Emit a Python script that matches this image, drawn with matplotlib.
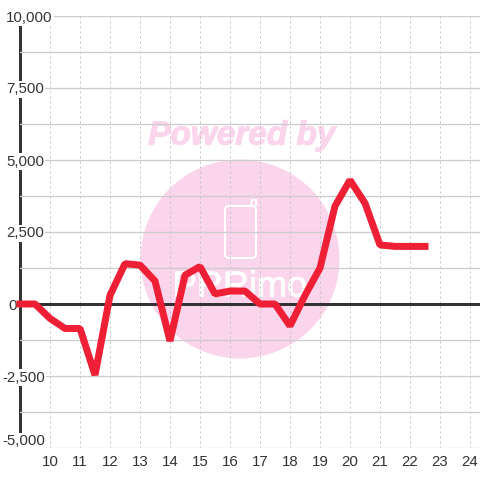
import matplotlib
matplotlib.use("Agg")
import matplotlib.pyplot as plt
import matplotlib.patheffects as pe
from matplotlib.patches import Circle, FancyBboxPatch, Polygon

hours = [9, 9.5, 10, 10.5, 11, 11.5, 12, 12.5, 13, 13.5, 14, 14.5, 15, 15.5, 16, 16.5,
         17, 17.5, 18, 18.5, 19, 19.5, 20, 20.5, 21, 21.5, 22, 22.5]
values = [0, 0, -500, -850, -850, -2465, 300, 1400, 1350, 800, -1285, 1000, 1300, 350,
          450, 450, 0, 0, -760, 300, 1250, 3400, 4300, 3500, 2050, 2000, 2000, 2000]
x_ticks = list(range(10, 25))
y_major = [-5000, -2500, 0, 2500, 5000, 7500, 10000]
y_minor = [-3750, -1250, 1250, 3750, 6250, 8750]
y_labels = ["-5,000", "-2,500", "0", "2,500", "5,000", "7,500", "10,000"]

plt.rcParams["font.family"] = ["Liberation Sans", "DejaVu Sans"]
PX = 72 / 100
W = 480
fig = plt.figure(figsize=(4.8, 4.8), dpi=100, facecolor="white")
ax = fig.add_axes([20 / W, 32 / W, 460 / W, 432 / W])
ax.set_xlim(9, 9 + 460 / 30)
ax.set_ylim(-5000, 10000)
ax.patch.set_alpha(0)

for s in ["top", "right", "bottom"]:
    ax.spines[s].set_visible(False)
ax.spines["left"].set_linewidth(3 * PX)
ax.spines["left"].set_color("#333333")
ax.spines["left"].set_zorder(1.5)
ax.spines["left"].set_bounds(-4550, 10000)

# watermark (display pixel coordinates, origin bottom left)
pink = "#fbd5ec"
fig.add_artist(Circle((240, W - 259), 99.5, transform=None, fc=pink, ec="none", zorder=-5))
fig.text(242 / W, 1 - 136 / W, "Powered by", color=pink, fontsize=24, fontweight="bold",
         fontstyle="italic", ha="center", va="center", zorder=-4,
         path_effects=[pe.withStroke(linewidth=0.8, foreground=pink)])
fig.text(240 / W, 1 - 287 / W, "PRRimo", color="white", fontsize=26,
         ha="center", va="center", zorder=-4,
         path_effects=[pe.withStroke(linewidth=0.6, foreground="white")])
fig.add_artist(FancyBboxPatch((225, W - 258), 31, 52, boxstyle="round,pad=0,rounding_size=4",
                              transform=None, fc="none", ec="white", lw=2 * PX, zorder=-4))
fig.add_artist(Polygon([(251, W - 206), (252, W - 200), (256, W - 200), (256, W - 206)],
                       closed=False, transform=None, fc="none", ec="white", lw=2 * PX, zorder=-4))

ax.set_xticks(x_ticks)
ax.set_yticks(y_major)
ax.set_yticks(y_minor, minor=True)
ax.set_yticklabels(y_labels)
ax.grid(True, axis="y", which="both", color="#cccccc", lw=1.3 * PX, zorder=1)
ax.grid(True, axis="x", color="#c4c4c4", lw=1 * PX, linestyle=(0, (2, 3)))
ax.set_axisbelow(True)
ax.tick_params(axis="both", which="both", length=0, labelsize=15 * PX, labelcolor="#333333")
ax.tick_params(axis="x", pad=7 * PX)
ax.tick_params(axis="y", pad=14 * PX)
ax.yaxis.set_zorder(2)
for lab, v in zip(ax.get_yticklabels(), y_major):
    lab.set_ha("left")
    lab.set_bbox(dict(fc="white", ec="none", pad=1.0))
    lab.set_zorder(3)
    if v < 0:
        lab.set_x(-4 / 460)
    elif v == 0:
        lab.set_x(2 / 460)
    if v == -5000:
        lab.set_va("bottom")

ax.axhline(0, color="#333333", lw=3 * PX, zorder=2.2)
ax.plot(hours, values, color="#ef2036", lw=7 * PX, solid_joinstyle="bevel",
        solid_capstyle="projecting", zorder=4, clip_on=False)

fig.savefig("out.png", dpi=100)
